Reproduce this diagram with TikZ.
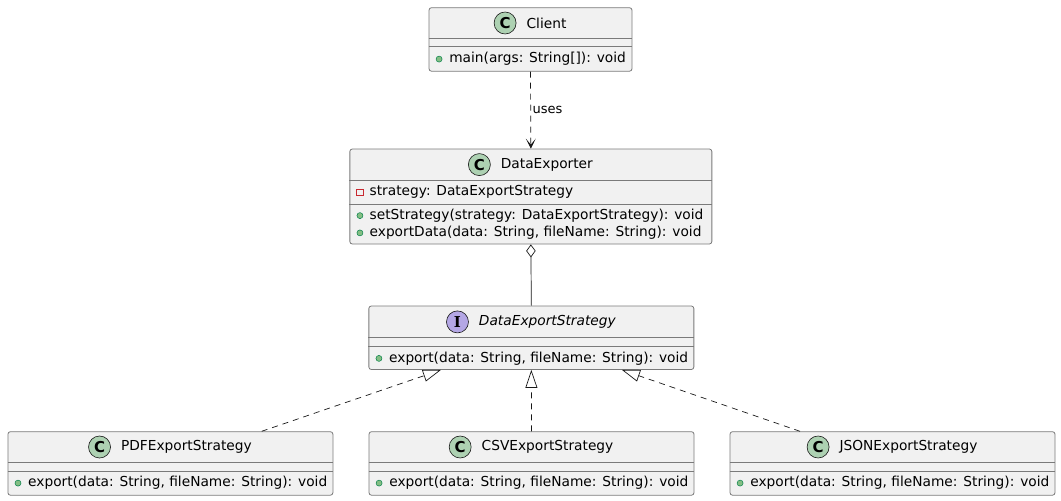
\documentclass[tikz,border=0pt]{standalone}
\usepackage{fontspec}
\setmainfont{DejaVu Sans}
\newfontfamily\iconserif{DejaVu Serif}
\usepackage{xcolor}
\usepackage{tikz}
\usetikzlibrary{arrows.meta,positioning}

\definecolor{umlfill}{HTML}{F1F1F1}
\definecolor{umlline}{HTML}{181818}
\definecolor{umlborder}{HTML}{7A7A7A}
\definecolor{classicon}{HTML}{ADD1B2}
\definecolor{ifaceicon}{HTML}{B4A7E5}
\definecolor{pubdot}{HTML}{84BE84}
\definecolor{publine}{HTML}{038048}
\definecolor{privline}{HTML}{C82930}

\begin{document}
\begin{tikzpicture}[
            x=1pt, y=-1pt,
            classbox/.style={rectangle, draw=umlborder, fill=umlfill, line width=0.8pt, rounded corners=2.5pt, inner sep=0pt, minimum height=63.5pt},
            classtitle/.style={inner sep=0pt, font=\fontsize{13.75pt}{16pt}\selectfont},
            member/.style={inner sep=0pt, anchor=west, font=\fontsize{13.75pt}{16pt}\selectfont},
            icon/.style={circle, draw=umlline, line width=0.6pt, minimum size=22pt, inner sep=0pt, font=\fontsize{15pt}{15pt}\selectfont\bfseries},
            pub/.style={circle, draw=publine, fill=pubdot, line width=0.5pt, minimum size=6pt, inner sep=0pt},
            priv/.style={rectangle, draw=privline, line width=0.6pt, minimum size=6.5pt, inner sep=0pt},
            separator/.style={draw=umlborder, line width=0.8pt},
            line/.style={draw=umlline, line width=0.7pt},
            dashed_line/.style={draw=umlline, line width=0.7pt, dash pattern=on 6pt off 5pt}
        ]
        \useasboundingbox (0,0) rectangle (1061,501);

        % Client
        \node [classbox, minimum width=203pt] (client) at (530.5,39.45) {};
        \node [classtitle] (clientname) at ([xshift=16pt,yshift=-15.7pt]client.north) {Client};
        \node [icon, fill=classicon, left=10pt of clientname] (clienticon) {C};
        \path [separator] ([yshift=-31.5pt]client.north west) -- ([yshift=-31.5pt]client.north east);
        \path [separator] ([yshift=-39.5pt]client.north west) -- ([yshift=-39.5pt]client.north east);
        \node [pub] (clientdot) at ([xshift=10.5pt,yshift=-51.8pt]client.north west) {};
        \node [member] (clientmain) at ([xshift=20.5pt,yshift=-51.8pt]client.north west) {main(args: String[]): void};

        % DataExporter (context)
        \node [classbox, minimum width=362pt, minimum height=95pt] (exporter) at (530.85,196.5) {};
        \node [classtitle] (exportername) at ([xshift=16pt,yshift=-16pt]exporter.north) {DataExporter};
        \node [icon, fill=classicon, left=10pt of exportername] (exportericon) {C};
        \path [separator] ([yshift=-31.3pt]exporter.north west) -- ([yshift=-31.3pt]exporter.north east);
        \path [separator] ([yshift=-56pt]exporter.north west) -- ([yshift=-56pt]exporter.north east);
        \node [priv] (exporterbox) at ([xshift=10.5pt,yshift=-43.7pt]exporter.north west) {};
        \node [member] (exporterstrategy) at ([xshift=20pt,yshift=-43.7pt]exporter.north west) {strategy: DataExportStrategy};
        \node [pub] (exporterdota) at ([xshift=10.5pt,yshift=-67pt]exporter.north west) {};
        \node [member] (exporterset) at ([xshift=20pt,yshift=-67pt]exporter.north west) {setStrategy(strategy: DataExportStrategy): void};
        \node [pub] (exporterdotb) at ([xshift=10.5pt,yshift=-84.3pt]exporter.north west) {};
        \node [member] (exporterdata) at ([xshift=20pt,yshift=-84.3pt]exporter.north west) {exportData(data: String, fileName: String): void};

        % DataExportStrategy (interface)
        \node [classbox, minimum width=325pt] (strategy) at (531.35,337.75) {};
        \node [classtitle, font=\fontsize{13.75pt}{16pt}\selectfont\itshape] (strategyname) at ([xshift=16pt,yshift=-16.3pt]strategy.north) {DataExportStrategy};
        \node [icon, fill=ifaceicon, left=10pt of strategyname] (strategyicon) {\iconserif\bfseries I};
        \path [separator] ([yshift=-32pt]strategy.north west) -- ([yshift=-32pt]strategy.north east);
        \path [separator] ([yshift=-40.3pt]strategy.north west) -- ([yshift=-40.3pt]strategy.north east);
        \node [pub] (strategydot) at ([xshift=10.5pt,yshift=-52.8pt]strategy.north west) {};
        \node [member] (strategyexport) at ([xshift=20.5pt,yshift=-52.8pt]strategy.north west) {export(data: String, fileName: String): void};

        % Concrete strategies
        \foreach \name/\cx/\label in {pdf/170.4/PDFExportStrategy, csv/531.5/CSVExportStrategy, json/892.5/JSONExportStrategy} {
            \node [classbox, minimum width=325pt] (\name) at (\cx,463.45) {};
            \node [classtitle] (\name name) at ([xshift=16pt,yshift=-15.7pt]\name.north) {\label};
            \node [icon, fill=classicon, left=10pt of \name name] (\name icon) {C};
            \path [separator] ([yshift=-31.5pt]\name.north west) -- ([yshift=-31.5pt]\name.north east);
            \path [separator] ([yshift=-39.8pt]\name.north west) -- ([yshift=-39.8pt]\name.north east);
            \node [pub] (\name dot) at ([xshift=10.5pt,yshift=-51.8pt]\name.north west) {};
            \node [member] (\name export) at ([xshift=20.5pt,yshift=-51.8pt]\name.north west) {export(data: String, fileName: String): void};
        }

        % Edges
        \path [dashed_line, -{Stealth[length=10pt, width=10pt, inset=6pt]}] (client.south) -- node [right, inner sep=1.5pt, font=\fontsize{13pt}{15pt}\selectfont] (useslabel) {uses} (exporter.north);
        \path [line, {Diamond[open, length=13pt, width=9.5pt]}-] (exporter.south) -- (strategy.north);
        \path [dashed_line, -{Triangle[open, length=18pt, width=12pt]}] ([xshift=91.3pt]pdf.north) -- ([xshift=-90.4pt]strategy.south);
        \path [dashed_line, -{Triangle[open, length=18pt, width=12pt]}] (csv.north) -- (strategy.south);
        \path [dashed_line, -{Triangle[open, length=18pt, width=12pt]}] ([xshift=-92.5pt]json.north) -- ([xshift=90.6pt]strategy.south);

    \end{tikzpicture}
\end{document}
